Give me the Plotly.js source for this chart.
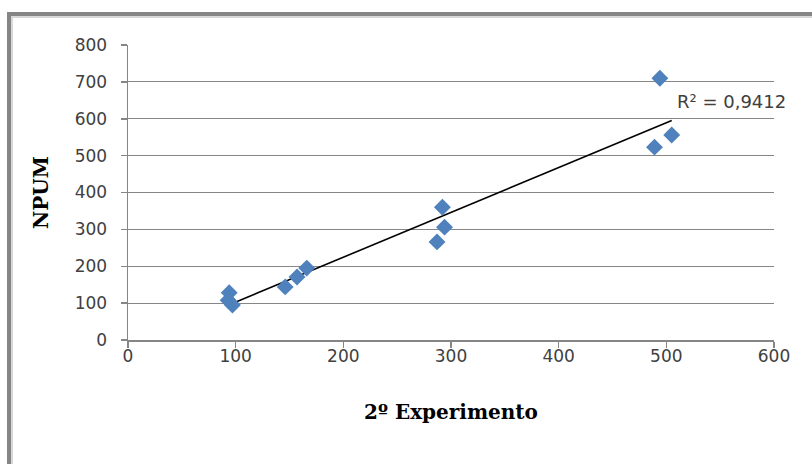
<!DOCTYPE html>
<html>
<head>
<meta charset="utf-8">
<script src="https://cdn.plot.ly/plotly-3.0.1.min.js"></script>
<style>
  html, body { margin: 0; padding: 0; background: #fff; }
  #wrap { position: relative; width: 812px; height: 464px; overflow: hidden; }
  #chart { position: absolute; left: 0; top: 0; width: 812px; height: 464px; }
  #frame { position: absolute; left: 7px; top: 12px; width: 820px; height: 470px;
           border-top: 4px solid #858585; border-left: 4px solid #858585;
           box-shadow: inset 2px 2px 0 #d8d8d8; pointer-events: none; }
</style>
</head>
<body>
<div id="wrap">
  <div id="chart"></div>
  <div id="frame"></div>
</div>
<script>
// Data
const experimento2 = [94, 93, 97, 146, 157, 166, 287, 294, 292, 489, 505, 494];
const npum         = [128, 108, 95, 144, 171, 195, 266, 306, 360, 523, 556, 710];
const xTicks = [0, 100, 200, 300, 400, 500, 600];
const yTicks = [0, 100, 200, 300, 400, 500, 600, 700, 800];
const r2Label = 'R² = 0,9412';

// Linear trendline (least squares)
const n = experimento2.length;
const mx = experimento2.reduce((a, b) => a + b, 0) / n;
const my = npum.reduce((a, b) => a + b, 0) / n;
let sxy = 0, sxx = 0;
for (let i = 0; i < n; i++) {
  sxy += (experimento2[i] - mx) * (npum[i] - my);
  sxx += (experimento2[i] - mx) ** 2;
}
const slope = sxy / sxx;
const intercept = my - slope * mx;
const xMin = Math.min(...experimento2), xMax = Math.max(...experimento2);
const trendX = [xMin, xMax];
const trendY = trendX.map(v => intercept + slope * v);

const pts = {
  x: experimento2, y: npum, type: 'scatter', mode: 'markers',
  marker: { symbol: 'diamond', size: 13, color: '#4F81BD' },
  hoverinfo: 'x+y', showlegend: false
};
const trend = {
  x: trendX, y: trendY, type: 'scatter', mode: 'lines',
  line: { color: '#000000', width: 1.6 }, showlegend: false, hoverinfo: 'skip'
};

const tickFont = { family: '"DejaVu Sans", sans-serif', size: 17, color: '#404040' };
const titleFont = { family: '"DejaVu Serif", serif', size: 20, color: '#000000', weight: 'bold' };

const layout = {
  width: 812, height: 464,
  margin: { l: 128, r: 38, t: 45, b: 124 },
  paper_bgcolor: 'rgba(0,0,0,0)', plot_bgcolor: '#ffffff',
  xaxis: {
    range: [0, 600], tickvals: xTicks, ticktext: xTicks.map(String),
    showgrid: false, zeroline: false, showline: true, linecolor: '#868686', linewidth: 1.5,
    ticks: 'outside', ticklen: 6, tickcolor: '#868686', tickwidth: 1.5,
    tickfont: tickFont, ticklabelstandoff: -6,
    title: { text: '<b>2º Experimento</b>', font: titleFont, standoff: 40 }
  },
  yaxis: {
    range: [0, 800], tickvals: yTicks, ticktext: yTicks.map(String),
    showgrid: true, gridcolor: '#868686', gridwidth: 1.2, zeroline: false,
    showline: true, linecolor: '#868686', linewidth: 1.5,
    ticks: 'outside', ticklen: 6, tickcolor: '#868686', tickwidth: 1.5,
    tickfont: tickFont, ticklabelstandoff: 10,
    title: { text: '<b>NPUM</b>', font: titleFont, standoff: 20 }
  },
  annotations: [{
    xref: 'x', yref: 'y', x: 508, y: 648, xanchor: 'left', yanchor: 'middle',
    text: r2Label, showarrow: false,
    font: { family: '"DejaVu Sans", sans-serif', size: 18, color: '#404040' }
  }]
};

Plotly.newPlot('chart', [trend, pts], layout, { staticPlot: true, displayModeBar: false });
</script>
</body>
</html>
